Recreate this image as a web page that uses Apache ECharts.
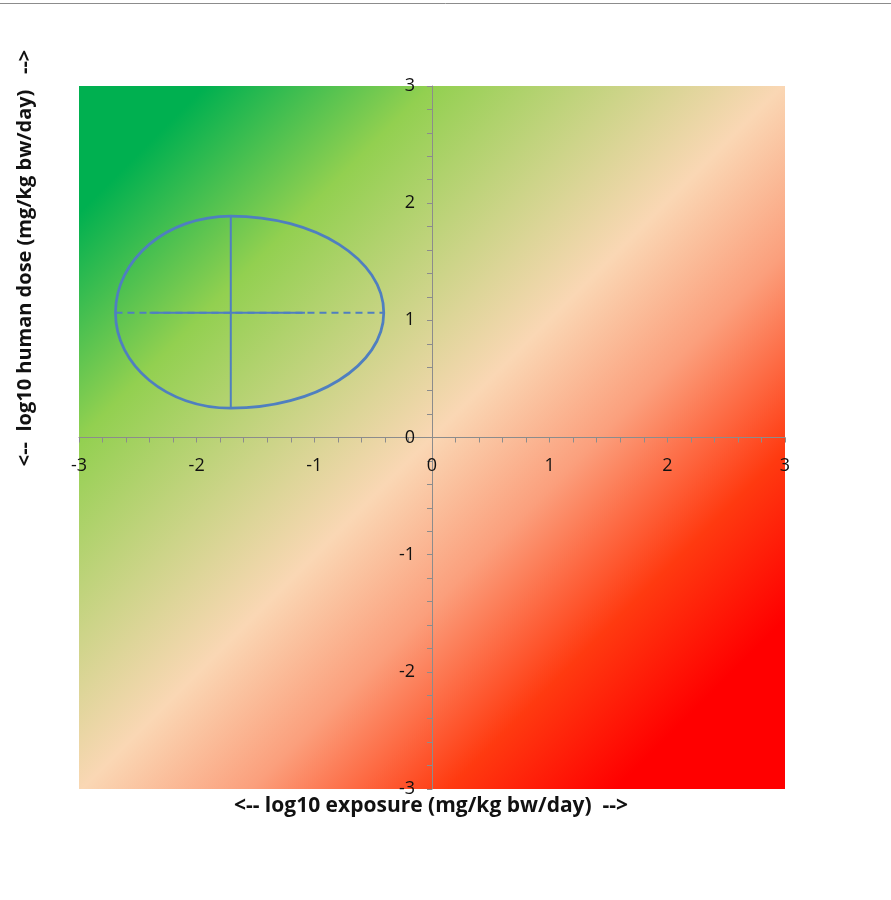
<!DOCTYPE html>
<html>
<head>
<meta charset="utf-8">
<script src="https://cdn.jsdelivr.net/npm/echarts@6/dist/echarts.min.js"></script>
<style>
html,body{margin:0;padding:0;background:#fff;}
#chart{width:891px;height:900px;}
</style>
</head>
<body>
<div id="chart"></div>
<script>
// Axis ranges and ticks
const xTicks = [-3, -2, -1, 0, 1, 2, 3];
const yTicks = [-3, -2, -1, 0, 1, 2, 3];
// Ellipse (exposure range x dose range): [min, mid, max]
const exposureRange = [-2.69, -1.71, -0.41];
const doseRange = [0.25, 1.065, 1.89];
// Solid part of the horizontal exposure line
const exposureSolid = [-2.40, -1.08];

const xTitle = '<-- log10 exposure (mg/kg bw/day)  -->';
const yTitle = '<--  log10 human dose (mg/kg bw/day)   -->';

const chart = echarts.init(document.getElementById('chart'), null, {renderer: 'canvas'});

const gridLeft = 79, gridRight = 106, gridTop = 86, gridBottom = 111;
const gridW = 891 - gridLeft - gridRight;
const gridH = 900 - gridTop - gridBottom;

const gradient = new echarts.graphic.LinearGradient(0, 0, 1, 1, [
  {offset: 0.00, color: '#00B050'},
  {offset: 0.09, color: '#00B050'},
  {offset: 0.25, color: '#92D050'},
  {offset: 0.50, color: '#FAD7B4'},
  {offset: 0.62, color: '#FB9F7C'},
  {offset: 0.76, color: '#FF3A10'},
  {offset: 0.88, color: '#FF0000'},
  {offset: 1.00, color: '#FF0000'}
]);

const lineColor = '#4F7FC0';
const fontFam = '"Open Sans", Lato, sans-serif';

const option = {
  animation: false,
  grid: {
    left: gridLeft, right: gridRight, top: gridTop, bottom: gridBottom,
    show: true, backgroundColor: gradient, borderWidth: 0
  },
  xAxis: {
    type: 'value', min: xTicks[0], max: xTicks[xTicks.length - 1], interval: 1,
    offset: -gridH / 2,
    axisLine: {onZero: false, lineStyle: {color: '#8C8C8C', width: 1}},
    axisTick: {show: true, length: 5, lineStyle: {color: '#8C8C8C'}},
    minorTick: {show: true, splitNumber: 5, length: 5, lineStyle: {color: '#8C8C8C'}},
    splitLine: {show: false},
    axisLabel: {margin: 19, color: '#111', fontSize: 18, fontFamily: fontFam, showMinLabel: true, showMaxLabel: true}
  },
  yAxis: {
    type: 'value', min: yTicks[0], max: yTicks[yTicks.length - 1], interval: 1,
    offset: -gridW / 2,
    axisLine: {onZero: false, lineStyle: {color: '#8C8C8C', width: 1}},
    axisTick: {show: true, length: 5, lineStyle: {color: '#8C8C8C'}},
    minorTick: {show: true, splitNumber: 5, length: 5, lineStyle: {color: '#8C8C8C'}},
    splitLine: {show: false},
    axisLabel: {margin: 17, color: '#111', fontSize: 18, fontFamily: fontFam, showMinLabel: true, showMaxLabel: true}
  },
  graphic: [
    {type: 'line', shape: {x1: 0, y1: 3.5, x2: 891, y2: 3.5}, style: {stroke: '#8C8C8C', lineWidth: 1}},
    {type: 'text', x: 431, y: 806, style: {text: xTitle, font: 'bold 21px ' + fontFam, fill: '#111', align: 'center', verticalAlign: 'middle'}},
    {type: 'text', x: 25, y: 258, rotation: Math.PI / 2, style: {text: yTitle, font: 'bold 20px ' + fontFam, fill: '#111', align: 'center', verticalAlign: 'middle'}}
  ],
  series: [
    {
      type: 'custom',
      coordinateSystem: 'cartesian2d',
      silent: true,
      dimensions: ['xmid', 'ymid', 'xmin', 'xmax', 'ymin', 'ymax'],
      encode: {x: [0, 2, 3], y: [1, 4, 5]},
      data: [[exposureRange[1], doseRange[1], exposureRange[0], exposureRange[2], doseRange[0], doseRange[2]]],
      renderItem: function (params, api) {
        const c = api.coord([api.value(0), api.value(1)]);
        const l = api.coord([api.value(2), api.value(1)]);
        const r = api.coord([api.value(3), api.value(1)]);
        const b = api.coord([api.value(0), api.value(4)]);
        const t = api.coord([api.value(0), api.value(5)]);
        const k = 0.5523;
        const cx = c[0], cy = c[1];
        const lx = l[0], rx = r[0], ty = t[1], by = b[1];
        const d = [
          'M', cx, ty,
          'C', cx + k * (rx - cx), ty, rx, cy - k * (cy - ty), rx, cy,
          'C', rx, cy + k * (by - cy), cx + k * (rx - cx), by, cx, by,
          'C', cx - k * (cx - lx), by, lx, cy + k * (by - cy), lx, cy,
          'C', lx, cy - k * (cy - ty), cx - k * (cx - lx), ty, cx, ty,
          'Z'
        ].join(' ');
        return {
          type: 'path',
          shape: {pathData: d},
          style: {fill: null, stroke: lineColor, lineWidth: 2.75}
        };
      },
      z: 3
    },
    {
      type: 'line', silent: true, symbol: 'none',
      data: [[exposureRange[0], doseRange[1]], [exposureRange[2], doseRange[1]]],
      lineStyle: {color: lineColor, width: 2, type: [7, 5]}, z: 2
    },
    {
      type: 'line', silent: true, symbol: 'none',
      data: [[exposureSolid[0], doseRange[1]], [exposureSolid[1], doseRange[1]]],
      lineStyle: {color: lineColor, width: 2, type: 'solid'}, z: 2
    },
    {
      type: 'line', silent: true, symbol: 'none',
      data: [[exposureRange[1], doseRange[0]], [exposureRange[1], doseRange[2]]],
      lineStyle: {color: lineColor, width: 2, type: 'solid'}, z: 2
    }
  ]
};
chart.setOption(option);
</script>
</body>
</html>
